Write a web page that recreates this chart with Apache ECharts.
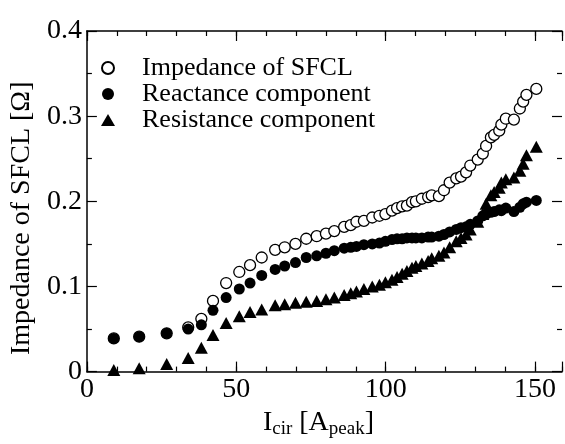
<!DOCTYPE html>
<html>
<head>
<meta charset="utf-8">
<script src="https://cdn.jsdelivr.net/npm/echarts@6/dist/echarts.min.js"></script>
<style>html,body{margin:0;padding:0;background:#fff}#c{width:565px;height:444px}</style>
</head>
<body>
<div id="c"></div>
<script>
const current = [9, 17.5, 26.7, 33.9, 38.3, 42.2, 46.6, 51, 54.6, 58.5, 63, 66.2, 69.8, 73.4, 76.9, 80, 82.8, 86.1, 88.3, 90.2, 92.7, 95.5, 97.9, 99.9, 102.1, 103.8, 105.5, 107.1, 108.8, 110.1, 112.1, 114.2, 115.4, 117.8, 119.5, 121.4, 123.6, 125.2, 126.9, 128.3, 130.8, 132.5, 133.6, 135.2, 136.3, 138, 138.7, 140.2, 142.9, 144.9, 146, 147.1, 150.4];
const impedance = [0.039, 0.041, 0.045, 0.052, 0.062, 0.083, 0.104, 0.117, 0.125, 0.134, 0.143, 0.146, 0.150, 0.156, 0.159, 0.162, 0.165, 0.170, 0.172, 0.176, 0.177, 0.181, 0.183, 0.185, 0.189, 0.192, 0.194, 0.195, 0.199, 0.200, 0.203, 0.205, 0.207, 0.206, 0.213, 0.222, 0.227, 0.229, 0.234, 0.242, 0.249, 0.256, 0.265, 0.275, 0.278, 0.283, 0.290, 0.297, 0.296, 0.309, 0.317, 0.325, 0.332];
const reactance = [0.039, 0.041, 0.045, 0.050, 0.055, 0.072, 0.087, 0.097, 0.104, 0.113, 0.120, 0.124, 0.128, 0.134, 0.136, 0.139, 0.142, 0.145, 0.146, 0.147, 0.149, 0.150, 0.151, 0.153, 0.155, 0.156, 0.156, 0.157, 0.157, 0.157, 0.157, 0.158, 0.158, 0.159, 0.161, 0.164, 0.167, 0.169, 0.170, 0.173, 0.177, 0.183, 0.185, 0.187, 0.188, 0.190, 0.189, 0.192, 0.188, 0.193, 0.197, 0.199, 0.201];
const resistance = [0.002, 0.004, 0.009, 0.016, 0.028, 0.043, 0.057, 0.065, 0.070, 0.073, 0.078, 0.079, 0.081, 0.082, 0.083, 0.085, 0.087, 0.090, 0.092, 0.094, 0.097, 0.100, 0.102, 0.105, 0.108, 0.111, 0.115, 0.118, 0.122, 0.124, 0.127, 0.130, 0.133, 0.136, 0.140, 0.146, 0.153, 0.157, 0.161, 0.167, 0.176, 0.185, 0.197, 0.207, 0.211, 0.216, 0.222, 0.226, 0.228, 0.236, 0.244, 0.254, 0.264];
const seriesNames = ['Impedance of SFCL', 'Reactance component', 'Resistance component'];
const xTicksMajor = 50, xTicksMinor = 10, xMin = 0, xMax = 159;
const yMin = 0, yMax = 0.4, yStep = 0.1;

const FONT = '"Liberation Serif", "Times New Roman", serif';
const pair = (xs, ys) => xs.map((x, i) => [x, ys[i]]);
const lineStyle = { color: '#000', width: 1.5 };

function xAxisDef(pos, major, showLine) {
  return {
    type: 'value', position: pos, min: xMin, max: xMax,
    interval: major ? xTicksMajor : xTicksMinor,
    axisLine: { show: showLine, onZero: false, lineStyle },
    axisTick: { show: true, inside: true, length: major ? 10 : 5, lineStyle: { color: '#000', width: 1.2 } },
    axisLabel: (major && pos === 'bottom') ? {
      show: true, margin: 4, color: '#000', fontFamily: FONT, fontSize: 28,
      formatter: v => (v % 50 === 0 ? String(v) : '')
    } : { show: false },
    splitLine: { show: false },
    name: (major && pos === 'bottom') ? 'I{sub|cir} [A{sub|peak}]' : '',
    nameLocation: 'middle', nameGap: 30,
    nameTextStyle: {
      color: '#000', fontFamily: FONT, fontSize: 28, padding: [0, 12, 0, 0],
      rich: { sub: { fontFamily: FONT, fontSize: 19, color: '#000', padding: [14, 0, 0, 0] } }
    }
  };
}
function yAxisDef(pos) {
  const left = pos === 'left';
  return {
    type: 'value', position: pos, min: yMin, max: yMax, interval: yStep,
    axisLine: { show: left, onZero: false, lineStyle },
    axisTick: { show: true, inside: true, length: 10, lineStyle: { color: '#000', width: 1.2 } },
    minorTick: { show: true, splitNumber: 2, length: 5, lineStyle: { color: '#000', width: 1.2 } },
    axisLabel: left ? { show: true, margin: 5, color: '#000', fontFamily: FONT, fontSize: 28 } : { show: false },
    splitLine: { show: false },
    name: left ? 'Impedance of SFCL [Ω]' : '',
    nameLocation: 'middle', nameRotate: 90, nameGap: 33,
    nameTextStyle: { color: '#000', fontFamily: FONT, fontSize: 28, padding: [0, 34, 0, 0] }
  };
}

const chart = echarts.init(document.getElementById('c'), null, { renderer: 'canvas' });
chart.setOption({
  animation: false,
  backgroundColor: '#fff',
  grid: { left: 85, top: 31, right: 0, bottom: 71, containLabel: false },
  xAxis: [xAxisDef('bottom', true, true), xAxisDef('bottom', false, false), xAxisDef('top', true, true), xAxisDef('top', false, false)],
  yAxis: [yAxisDef('left'), yAxisDef('right')],
  legend: {
    orient: 'vertical', left: 96, top: 50, itemGap: 0, itemWidth: 14, itemHeight: 12,
    data: seriesNames,
    textStyle: { color: '#000', fontFamily: FONT, fontSize: 26, lineHeight: 26, padding: [0, 0, 0, 22] }
  },
  series: [
    { name: seriesNames[0], type: 'scatter', xAxisIndex: 0, yAxisIndex: 0, symbol: 'circle', symbolSize: 11,
      itemStyle: { color: '#fff', borderColor: '#000', borderWidth: 1.3, opacity: 1 }, data: pair(current, impedance) },
    { name: seriesNames[1], type: 'scatter', xAxisIndex: 0, yAxisIndex: 0, symbol: 'circle', symbolSize: 11,
      itemStyle: { color: '#000', opacity: 1 }, data: pair(current, reactance) },
    { name: seriesNames[2], type: 'scatter', xAxisIndex: 0, yAxisIndex: 0, symbol: 'triangle', symbolSize: [13, 12],
      itemStyle: { color: '#000', opacity: 1 }, data: pair(current, resistance) }
  ]
});
</script>
</body>
</html>
